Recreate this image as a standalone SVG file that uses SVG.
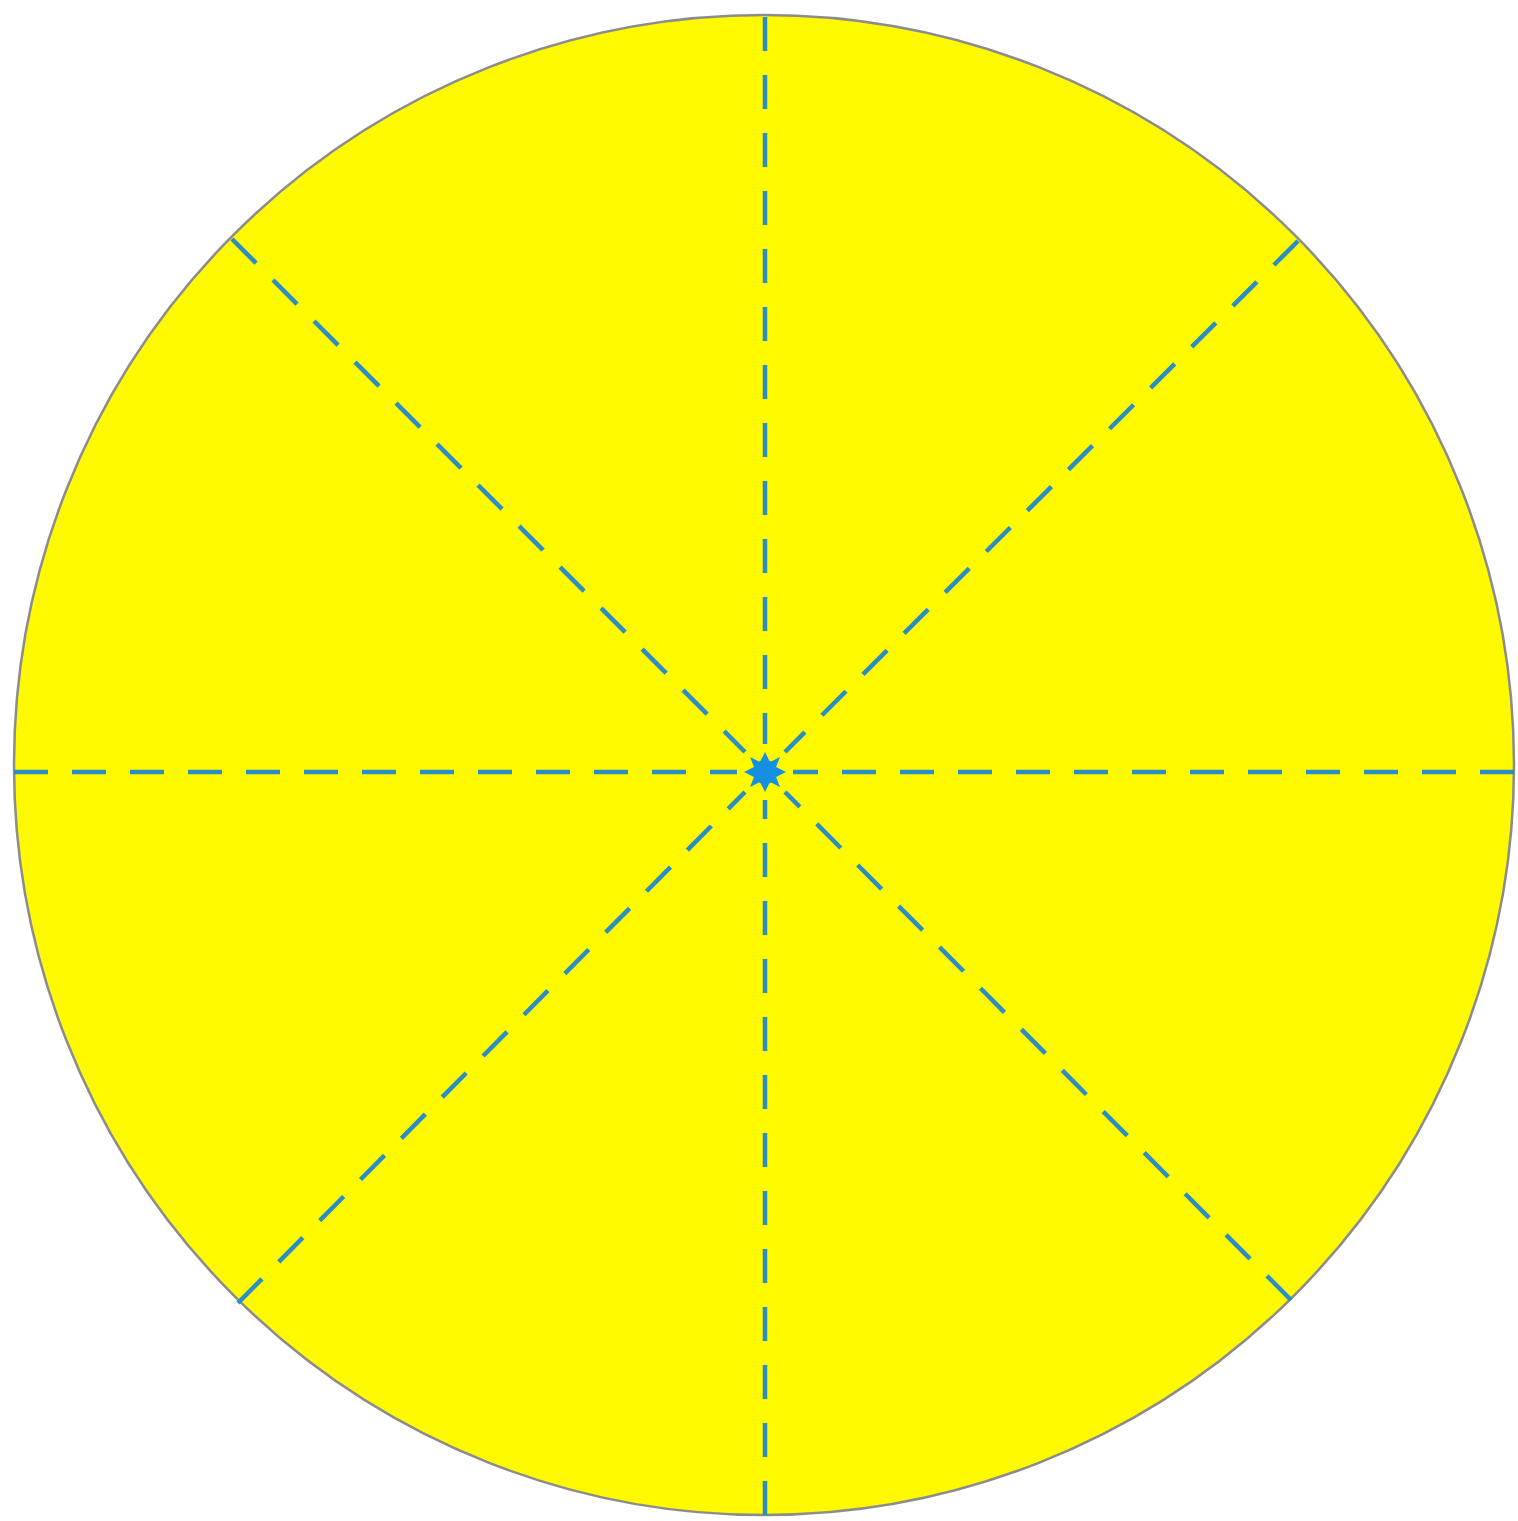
<svg xmlns="http://www.w3.org/2000/svg" width="1518" height="1521" viewBox="0 0 1518 1521">
<style>
.r{stroke:#2a8ec4;stroke-width:4.5;stroke-dasharray:34 24;fill:none;stroke-linecap:butt}
</style>
<rect width="1518" height="1521" fill="#ffffff"/>
<g id="disc">
<circle cx="764" cy="765" r="750" fill="#fffa00" stroke="#8c8c8c" stroke-width="2.5"/>
</g>
<g id="connectors">
<line class="r" x1="765" y1="17" x2="765" y2="744"/>
<line class="r" x1="765" y1="1515" x2="765" y2="800"/>
<line class="r" x1="14" y1="772" x2="737" y2="772"/>
<line class="r" x1="1514" y1="772" x2="793" y2="772"/>
<line class="r" x1="232" y1="239" x2="745" y2="752"/>
<line class="r" x1="1298" y1="241" x2="785" y2="752"/>
<line class="r" x1="238" y1="1303" x2="745" y2="792"/>
<line class="r" x1="1291" y1="1300" x2="785" y2="792"/>
</g>
<g id="center">
<polygon fill="#1590e0" points="765,752 770,762 780,757 776,767 786,772 776,777 780,787 770,782 765,792 760,782 750,787 754,777 744,772 754,767 750,757 760,762"/>
<circle cx="765" cy="772" r="12" fill="#1590e0"/>
</g>
</svg>
